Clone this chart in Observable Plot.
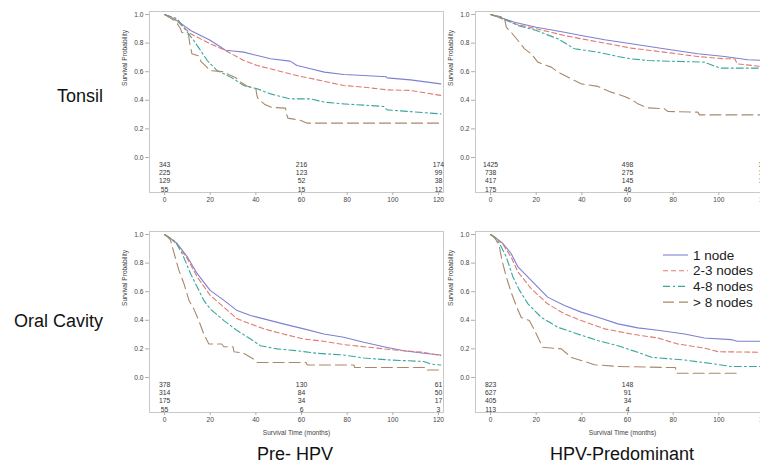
<!DOCTYPE html>
<html><head><meta charset="utf-8">
<script src="https://cdn.jsdelivr.net/npm/d3@7"></script>
<script src="https://cdn.jsdelivr.net/npm/@observablehq/plot@0.6"></script>
<style>
body{margin:0;background:#fff;font-family:Arial,"Liberation Sans",sans-serif;}
#wrap{position:relative;width:760px;height:470px;overflow:hidden;background:#fff;}
.panel{position:absolute;}
#overlay{position:absolute;left:0;top:0;}
</style></head><body><div id="wrap"><svg id="overlay" width="760" height="470"></svg></div>
<script>
// ---------- data ----------
const groups = ["1 node", "2-3 nodes", "4-8 nodes", "> 8 nodes"];
const rowLabels = ["Tonsil", "Oral Cavity"];
const colLabels = ["Pre- HPV", "HPV-Predominant"];
const xTicks = [0, 20, 40, 60, 80, 100, 120];
const yTicks = [0, 0.2, 0.4, 0.6, 0.8, 1.0];
const riskTimes = [0, 60, 120];
const yLabel = "Survival Probability";
const xLabel = "Survival Time (months)";

// number at risk: one row per group, values at riskTimes
const riskTonsilPre = [[343, 216, 174], [225, 123, 99], [129, 52, 38], [55, 15, 12]];
const riskTonsilHpv = [[1425, 498, 325], [738, 275, 131], [417, 145, 142], [175, 46, 37]];
const riskOralPre = [[378, 130, 61], [314, 84, 50], [175, 34, 17], [55, 6, 3]];
const riskOralHpv = [[823, 148, 18], [627, 91, 11], [405, 34, 3], [113, 4, 0]];

// survival curves [months, probability]
const tonsilPre1 = [[0,1],[3,0.98],[7,0.94],[11.4,0.888],[20,0.82],[26.7,0.75],[30,0.745],[34.7,0.737],[40.6,0.713],[46.4,0.69],[55,0.674],[58,0.643],[64,0.62],[70,0.597],[78.5,0.58],[87.3,0.573],[97,0.565],[97.5,0.557],[107.7,0.543],[121,0.515]];
const tonsilPre2 = [[0,1],[5,0.96],[11.4,0.865],[20,0.795],[26.7,0.748],[34.7,0.678],[40.6,0.643],[49.3,0.608],[58,0.573],[67,0.543],[78.5,0.503],[87.3,0.492],[97.5,0.473],[107.7,0.469],[121,0.434]];
const tonsilPre3 = [[0,1],[5.5,0.97],[10,0.876],[12.8,0.818],[15.8,0.748],[18.7,0.678],[23,0.608],[29,0.562],[34.7,0.503],[40.6,0.48],[46.4,0.445],[55,0.41],[64,0.41],[70,0.387],[78.5,0.375],[96,0.357],[97.5,0.333],[121,0.305]];
const tonsilPre4 = [[0,1],[2,0.98],[5,0.95],[7,0.9],[7.5,0.876],[10.5,0.86],[11,0.8],[12,0.725],[15,0.71],[16,0.67],[18,0.64],[20,0.608],[26,0.6],[28,0.58],[31,0.56],[33,0.53],[36,0.5],[40,0.48],[40.5,0.43],[41,0.41],[44,0.37],[47,0.35],[53,0.345],[53.5,0.3],[54,0.275],[59.5,0.26],[62.5,0.24],[121,0.24]];

const tonsilHpv1 = [[0,1],[5,0.975],[10.5,0.946],[20,0.911],[32.4,0.876],[39.7,0.853],[50,0.823],[61.6,0.795],[76,0.76],[90.8,0.725],[102.5,0.706],[112.7,0.683],[121,0.678]];
const tonsilHpv2 = [[0,1],[5,0.97],[10.5,0.935],[20,0.9],[32.4,0.853],[39.7,0.83],[50,0.8],[61.6,0.765],[76,0.737],[90.8,0.706],[102.5,0.69],[107,0.69],[108,0.655],[121,0.632]];
const tonsilHpv3 = [[0,1],[4,0.98],[7.6,0.958],[12,0.923],[20,0.888],[29.5,0.83],[36.8,0.76],[47,0.737],[55.8,0.706],[61.6,0.69],[69,0.678],[83.5,0.671],[93.7,0.667],[98,0.639],[101,0.625],[121,0.625]];
const tonsilHpv4 = [[0,1],[6,0.98],[6.9,0.911],[9,0.876],[12,0.818],[14.9,0.76],[17.8,0.725],[20.7,0.667],[26.6,0.632],[29.5,0.597],[35.3,0.55],[39.7,0.515],[47,0.497],[52.8,0.457],[58.7,0.427],[62.3,0.4],[64.5,0.375],[69,0.347],[76.2,0.34],[77.7,0.322],[90.8,0.317],[91.5,0.298],[121,0.298]];

const oralPre1 = [[0,1],[2,0.98],[5.5,0.937],[10,0.843],[14.3,0.726],[20,0.609],[26,0.539],[31.8,0.468],[37.7,0.433],[43.5,0.41],[52,0.375],[61,0.34],[69.8,0.304],[78.5,0.281],[87.3,0.246],[96,0.215],[104.8,0.187],[113.6,0.169],[121,0.157]];
const oralPre2 = [[0,1],[2,0.98],[5.5,0.932],[10,0.831],[14.3,0.703],[20,0.574],[26,0.492],[31.8,0.41],[37.7,0.375],[43.5,0.34],[52,0.304],[61,0.269],[69.8,0.253],[78.5,0.23],[87.3,0.215],[96,0.2],[104.8,0.187],[113.6,0.176],[121,0.152]];
const oralPre3 = [[0,1],[2,0.98],[4.8,0.948],[7.7,0.867],[11.4,0.726],[14.3,0.632],[17.2,0.539],[20,0.48],[26,0.398],[31.8,0.328],[37.7,0.269],[42,0.222],[49.3,0.2],[58,0.187],[66.9,0.169],[78.5,0.157],[87.3,0.136],[99,0.122],[113.6,0.112],[116.5,0.094],[121,0.087]];
const oralPre4 = [[0,1],[1.5,0.98],[2.6,0.96],[4,0.878],[6.3,0.749],[8.5,0.656],[10.7,0.539],[12.8,0.48],[15,0.398],[17.2,0.304],[19.4,0.234],[25,0.234],[26,0.215],[30,0.215],[30.4,0.18],[34.7,0.169],[39,0.129],[40.6,0.105],[62,0.105],[62.5,0.087],[83,0.087],[83.2,0.07],[114,0.07],[114.3,0.052],[121,0.052]];

const oralHpv1 = [[0,1],[2,0.98],[5.4,0.937],[9,0.867],[12,0.773],[17.8,0.679],[25,0.562],[32.4,0.503],[39.7,0.457],[47,0.421],[55.8,0.375],[64.5,0.347],[73.3,0.33],[85,0.304],[93.7,0.276],[105.4,0.265],[108,0.253],[121,0.253]];
const oralHpv2 = [[0,1],[2,0.98],[5.4,0.932],[9,0.843],[12,0.738],[17.8,0.621],[25,0.515],[32.4,0.445],[39.7,0.398],[50,0.34],[61.6,0.304],[73.3,0.276],[82,0.234],[93.7,0.206],[99.6,0.18],[121,0.176]];
const oralHpv3 = [[0,1],[2,0.98],[3.9,0.937],[6.9,0.843],[9.8,0.703],[12.7,0.609],[16.4,0.515],[22.2,0.421],[29.5,0.351],[38.2,0.304],[47,0.258],[55.8,0.222],[64.5,0.176],[70.4,0.141],[85,0.122],[96.6,0.098],[105.4,0.077],[121,0.077]];
const oralHpv4 = [[0,1],[1.5,0.98],[2.5,0.96],[3.9,0.913],[5,0.82],[6.9,0.703],[9,0.597],[11.2,0.503],[13.4,0.421],[17,0.398],[19.3,0.328],[22.9,0.211],[31,0.2],[35.3,0.141],[42.6,0.105],[45.5,0.089],[55.8,0.077],[76.2,0.07],[81,0.07],[81.3,0.03],[107.6,0.03]];

// ---------- styles ----------
const colors = ["#7d80d2", "#e07b6f", "#3aa79b", "#a98869"];
const dashes = [null, "5,3", "7,3,2,3", "11,5"];
const font = "Arial, 'Liberation Sans', sans-serif";

function panel(curves, risk, bottom, left, top) {
  const h = bottom ? 232 : 212;
  const marks = [
    Plot.frame({stroke: "#c9c9c9"}),
    Plot.axisX({ticks: xTicks, tickSize: 3, tickPadding: 2, stroke: "#b0b0b0", tickFormat: d => d, label: null}),
    Plot.axisY({ticks: yTicks, tickSize: 4, tickPadding: 2, stroke: "#b0b0b0", tickFormat: d3.format(".1f"), label: null}),
    Plot.text([yLabel], {frameAnchor: "left", y: 0.5, rotate: -90, dx: -25, fill: "#444", fontSize: 6.6})
  ];
  if (bottom) marks.push(Plot.text([xLabel], {frameAnchor: "bottom", dy: 22, fill: "#444", fontSize: 6.6}));
  curves.forEach((c, i) => {
    marks.push(Plot.line(c, {x: d => d[0], y: d => d[1], stroke: colors[i], strokeWidth: 1.1,
      strokeDasharray: dashes[i] || undefined}));
  });
  risk.forEach((row, i) => {
    marks.push(Plot.text(row.map((v, j) => ({t: riskTimes[j], v})),
      {x: "t", y: () => 0, text: d => String(d.v), dy: 7 + i * 8.3, fill: "#333", fontSize: 6.8}));
  });
  const svg = Plot.plot({
    width: 340, height: h,
    marginLeft: 39, marginRight: 7, marginTop: 11, marginBottom: h - 192,
    x: {domain: [-6.6, 122.2], label: null},
    y: {domain: [-0.245, 1.021], label: null},
    style: {fontFamily: font, fontSize: "6.6px", color: "#444", background: "transparent", overflow: "visible"},
    marks
  });
  svg.classList.add("panel");
  svg.style.left = left + "px";
  svg.style.top = top + "px";
  document.getElementById("wrap").insertBefore(svg, document.getElementById("overlay"));
}

panel([tonsilPre1, tonsilPre2, tonsilPre3, tonsilPre4], riskTonsilPre, false, 110, 0);
panel([tonsilHpv1, tonsilHpv2, tonsilHpv3, tonsilHpv4], riskTonsilHpv, false, 436, 0);
panel([oralPre1, oralPre2, oralPre3, oralPre4], riskOralPre, true, 110, 220);
panel([oralHpv1, oralHpv2, oralHpv3, oralHpv4], riskOralHpv, true, 436, 220);

// ---------- labels and legend ----------
const ov = d3.select("#overlay").style("font-family", font);
const rowY = [101.5, 326.5];
rowLabels.forEach((t, i) => ov.append("text").attr("x", 103).attr("y", rowY[i])
  .attr("text-anchor", "end").attr("font-size", 18).attr("fill", "#111").text(t));
const colX = [295, 622];
colLabels.forEach((t, i) => ov.append("text").attr("x", colX[i]).attr("y", 460)
  .attr("text-anchor", "middle").attr("font-size", 18).attr("fill", "#111").text(t));
const lg = ov.append("g");
groups.forEach((g, i) => {
  const y = 255 + i * 15.7;
  lg.append("line").attr("x1", 663).attr("x2", 688).attr("y1", y).attr("y2", y)
    .attr("stroke", colors[i]).attr("stroke-width", 1.1).attr("stroke-dasharray", dashes[i]);
  lg.append("text").attr("x", 693).attr("y", y).attr("dy", "0.35em")
    .attr("font-size", 13.5).attr("fill", "#222").text(g);
});
</script></body></html>
